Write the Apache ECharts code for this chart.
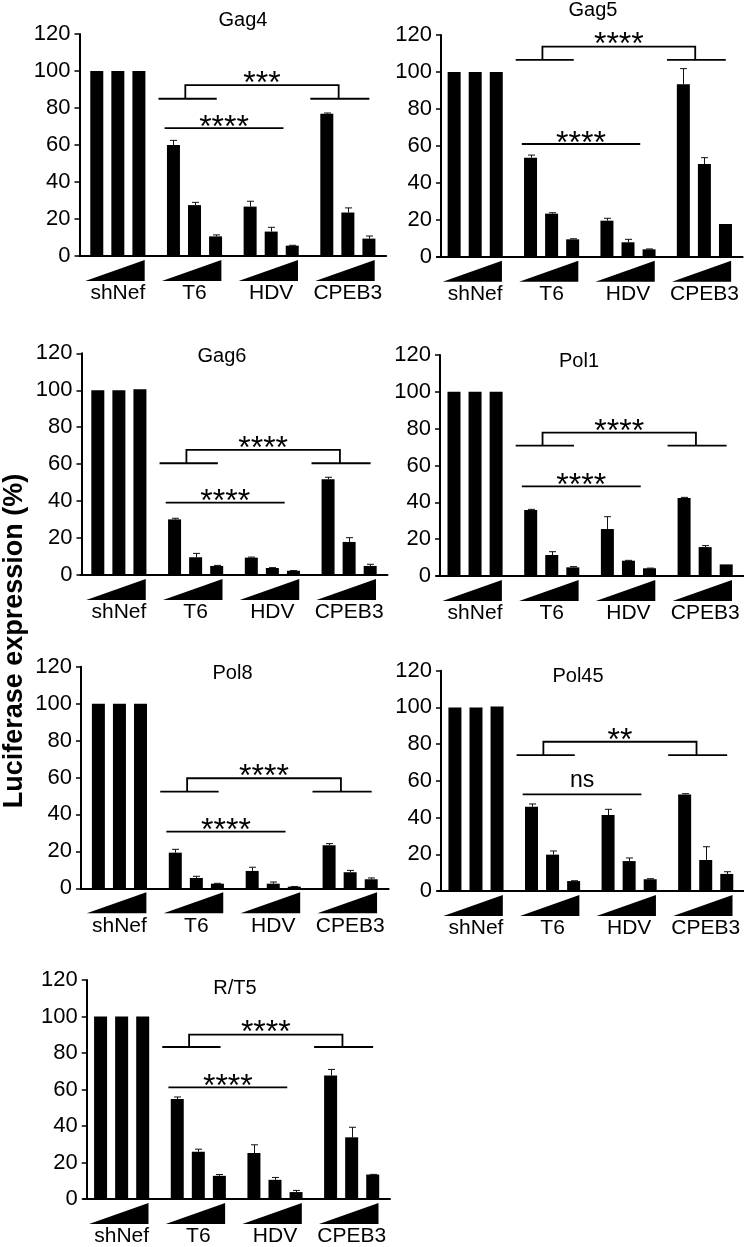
<!DOCTYPE html>
<html><head><meta charset="utf-8">
<script src="https://cdn.jsdelivr.net/npm/echarts@6/dist/echarts.min.js"></script>
<style>html,body{margin:0;padding:0;background:#fff}#c{width:744px;height:1247px}</style>
</head><body><div id="c"></div>
<script>
// ---- data ----
const categories = ['shNef', 'T6', 'HDV', 'CPEB3'];
const yMin = 0, yMax = 120, yStep = 20;
const panelNames = ['Gag4', 'Gag5', 'Gag6', 'Pol1', 'Pol8', 'Pol45', 'R/T5'];
const yAxisTitle = 'Luciferase expression (%)';

// values: 3 increasing doses per category (shNef, T6, HDV, CPEB3)
const gag4Values  = [100, 100, 100,   60.0, 27.5, 10.6,  26.7, 13.2, 5.6,  76.9, 23.5, 9.4];
const gag4Errors  = [0, 0, 0,         2.5, 1.5, 0.8,     2.9, 2.3, 0.2,    0.4, 2.5, 1.4];
const gag5Values  = [100, 100, 100,   53.6, 23.3, 9.4,   19.5, 7.8, 4.0,   93.3, 50.2, 17.7];
const gag5Errors  = [0, 0, 0,         1.4, 0.5, 0.3,     1.3, 1.6, 0.2,    8.5, 3.4, 0];
const gag6Values  = [100, 100, 100.5, 30.1, 9.6, 4.9,    9.4, 3.8, 2.3,    51.8, 17.9, 4.9];
const gag6Errors  = [0, 0, 0,         0.6, 2.1, 0.3,     0.3, 0.2, 0.1,    1.1, 2.3, 0.9];
const pol1Values  = [100, 100, 100,   35.8, 11.4, 4.7,   25.5, 8.3, 4.2,   42.4, 15.7, 6.3];
const pol1Errors  = [0, 0, 0,         0.4, 1.8, 0.4,     6.7, 0.2, 0.1,    0.3, 0.8, 0];
const pol8Values  = [100, 100, 100,   19.3, 5.6, 2.5,    9.4, 2.5, 0.9,    23.3, 8.7, 4.9];
const pol8Errors  = [0, 0, 0,         1.8, 0.9, 0.2,     2.0, 0.9, 0.1,    0.9, 1.0, 0.7];
const pol45Values = [100, 100, 100.5, 45.9, 19.8, 5.4,   41.4, 16.3, 6.4,  52.6, 16.9, 9.3];
const pol45Errors = [0, 0, 0,         1.5, 2.0, 0.2,     3.1, 1.7, 0.3,    0.4, 7.2, 1.2];
const rt5Values   = [100, 100, 100,   54.8, 25.9, 12.7,  25.2, 10.5, 3.8,  67.7, 33.8, 13.4];
const rt5Errors   = [0, 0, 0,         1.1, 1.4, 0.7,     4.5, 1.3, 0.9,    3.3, 5.5, 0.1];

// significance: [bracket arm level, bracket top level, label, T6-vs-HDV line level, label]
const gag4Sig  = [85.0, 92.4, '***', 69.1, '****'];
const gag5Sig  = [106.5, 113.7, '****', 61.0, '****'];
const gag6Sig  = [60.5, 67.7, '****', 39.2, '****'];
const pol1Sig  = [70.8, 77.8, '****', 48.7, '****'];
const pol8Sig  = [52.3, 59.6, '****', 30.7, '****'];
const pol45Sig = [74.0, 81.3, '**', 52.6, 'ns'];
const rt5Sig   = [83.3, 90.1, '****', 61.2, '****'];

const panelValues = [gag4Values, gag5Values, gag6Values, pol1Values, pol8Values, pol45Values, rt5Values];
const panelErrors = [gag4Errors, gag5Errors, gag6Errors, pol1Errors, pol8Errors, pol45Errors, rt5Errors];
const panelSig = [gag4Sig, gag5Sig, gag6Sig, pol1Sig, pol8Sig, pol45Sig, rt5Sig];

// ---- layout (pixels) ----
const layout = [
  {left: 79.5, top: 34,    width: 306.7, height: 222,   shift: 0,   tx: 243,   ty: 20},
  {left: 437,  top: 35,    width: 305.6, height: 221.7, shift: 4,   tx: 593,   ty: 10.5},
  {left: 80.5, top: 353.3, width: 307,   height: 221.7, shift: 1,   tx: 222,   ty: 356.7},
  {left: 436.7,top: 355,   width: 306.8, height: 221,   shift: 3.3, tx: 579,   ty: 361.7},
  {left: 81,   top: 666.7, width: 307.6, height: 221.6, shift: 0,   tx: 232.5, ty: 673},
  {left: 437.7,top: 670.7, width: 306.3, height: 220.3, shift: 3.3, tx: 578,   ty: 676},
  {left: 83.3, top: 980,   width: 306.7, height: 221,   shift: 3.4, tx: 235,   ty: 988}
];

const FONT = '"Liberation Sans", Arial, Helvetica, sans-serif';
const BAR_W = 13, BAR_GAP = 0.62;
const PITCH = BAR_W * (1 + BAR_GAP);

const grids = [], xAxes = [], yAxes = [], series = [], graphics = [];

function errRender(params, api) {
  const cat = api.value(0), dose = api.value(1), v = api.value(2), e = api.value(3);
  const p0 = api.coord([cat, v]);
  const p1 = api.coord([cat, v + e]);
  const x = Math.round(p0[0] + (dose - 1) * PITCH) + 0.5;
  return {type: 'group', children: [
    {type: 'line', shape: {x1: x, y1: p0[1], x2: x, y2: p1[1]}, style: {stroke: '#111', lineWidth: 1}},
    {type: 'line', shape: {x1: x - 3.5, y1: p1[1], x2: x + 3.5, y2: p1[1]}, style: {stroke: '#111', lineWidth: 1}}
  ]};
}

function wedgeRender(params, api) {
  const idx = api.value(0);
  const p = api.coord([idx, api.value(1)]);
  const W = api.size([1, 0])[0];
  const y0 = p[1];
  return {type: 'polygon', shape: {points: [
    [p[0] - 0.425 * W, y0 + 25], [p[0] + 0.35 * W, y0 + 25], [p[0] + 0.35 * W, y0 + 4]
  ]}, style: {fill: '#000'}};
}

function makeSigRender(sig) {
  return function (params, api) {
    const W = api.size([1, 0])[0];
    const c1 = api.coord([1, 0])[0], c2 = api.coord([2, 0])[0], c3 = api.coord([3, 0])[0];
    const yArm = api.coord([1, api.value(1)])[1];
    const yTop = api.coord([1, api.value(2)])[1];
    const yLow = api.coord([1, api.value(3)])[1];
    const sL = c1 - 0.12 * W, sR = c3 - 0.12 * W;
    const ls = {stroke: '#000', lineWidth: 1.8};
    const lowX1 = c1 - 0.39 * W, lowX2 = c2 + 0.16 * W;
    const isStars = (t) => /^\*+$/.test(t);
    const starFont = '32px ' + FONT;
    const nsFont = '23px ' + FONT;
    return {type: 'group', children: [
      {type: 'line', shape: {x1: c1 - 0.47 * W, y1: yArm, x2: c1 + 0.29 * W, y2: yArm}, style: ls},
      {type: 'line', shape: {x1: c3 - 0.49 * W, y1: yArm, x2: c3 + 0.28 * W, y2: yArm}, style: ls},
      {type: 'polyline', shape: {points: [[sL, yArm], [sL, yTop], [sR, yTop], [sR, yArm]]}, style: Object.assign({fill: null}, ls)},
      {type: 'text', style: {text: sig[2], x: (sL + sR) / 2, y: isStars(sig[2]) ? yTop - 1 : yTop - 13.5, align: 'center', verticalAlign: 'middle',
        font: isStars(sig[2]) ? starFont : nsFont, fill: '#000'}},
      {type: 'line', shape: {x1: lowX1, y1: yLow, x2: lowX2, y2: yLow}, style: ls},
      {type: 'text', style: {text: sig[4], x: (lowX1 + lowX2) / 2, y: isStars(sig[4]) ? yLow : yLow - 13.5,
        align: 'center', verticalAlign: 'middle', font: isStars(sig[4]) ? starFont : nsFont, fill: '#000'}}
    ]};
  };
}

for (let p = 0; p < 7; p++) {
  const L = layout[p];
  grids.push({left: L.left, top: L.top, width: L.width, height: L.height, containLabel: false});
  xAxes.push({
    type: 'category', gridIndex: p, data: categories,
    axisLine: {lineStyle: {color: '#000', width: 2}},
    axisTick: {alignWithLabel: true, length: 4, lineStyle: {color: '#000', width: 1.5}},
    axisLabel: {color: '#000', fontSize: 21, fontFamily: FONT, margin: 27, interval: 0},
    splitLine: {show: false}
  });
  yAxes.push({
    type: 'value', gridIndex: p, min: yMin, max: yMax, interval: yStep, offset: -L.shift,
    axisLine: {show: true, lineStyle: {color: '#000', width: 2}},
    axisTick: {show: true, length: 5, lineStyle: {color: '#000', width: 1.5}},
    axisLabel: {color: '#000', fontSize: 22, fontFamily: FONT, margin: 9},
    splitLine: {show: false}
  });
  const vals = panelValues[p], errs = panelErrors[p];
  for (let d = 0; d < 3; d++) {
    series.push({
      type: 'bar', xAxisIndex: p, yAxisIndex: p, barWidth: BAR_W, barGap: (BAR_GAP * 100) + '%',
      itemStyle: {color: '#000'}, silent: true, animation: false,
      data: categories.map((c, i) => vals[i * 3 + d])
    });
  }
  const errData = [];
  categories.forEach((c, i) => {
    for (let d = 0; d < 3; d++) {
      if (errs[i * 3 + d] > 0) errData.push([i, d, vals[i * 3 + d], errs[i * 3 + d]]);
    }
  });
  series.push({type: 'custom', xAxisIndex: p, yAxisIndex: p, renderItem: errRender, data: errData,
    encode: {x: 0, y: 2}, clip: false, silent: true, animation: false, z: 5});
  series.push({type: 'custom', xAxisIndex: p, yAxisIndex: p, renderItem: wedgeRender,
    data: categories.map((c, i) => [i, 0]), encode: {x: 0, y: 1}, clip: false, silent: true, animation: false});
  const sig = panelSig[p];
  series.push({type: 'custom', xAxisIndex: p, yAxisIndex: p, renderItem: makeSigRender(sig),
    data: [[1, sig[0], sig[1], sig[3]]], encode: {x: 0, y: 1}, clip: false, silent: true, animation: false, z: 6});
  graphics.push({type: 'text', x: L.tx, y: L.ty, silent: true,
    style: {text: panelNames[p], font: '20px ' + FONT, fill: '#000', align: 'center', verticalAlign: 'middle'}});
}
graphics.push({type: 'text', x: 15, y: 641, rotation: Math.PI / 2, silent: true,
  style: {text: yAxisTitle, font: 'bold 27px ' + FONT, fill: '#000', align: 'center', verticalAlign: 'middle'}});

const chart = echarts.init(document.getElementById('c'), null, {renderer: 'canvas'});
chart.setOption({
  animation: false,
  backgroundColor: '#fff',
  grid: grids, xAxis: xAxes, yAxis: yAxes, series: series, graphic: graphics
});
</script></body></html>
